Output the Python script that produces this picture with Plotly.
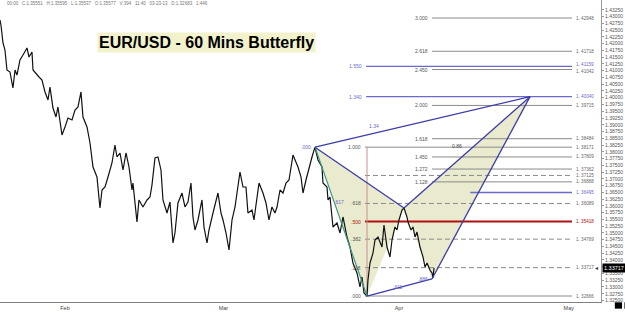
import pandas as pd
import plotly.graph_objects as go

# ---------------- data (day-of-year 2013, EUR/USD price) ----------------
price_day = [19.52, 19.69, 20.05, 20.40, 20.75, 21.28, 21.81, 22.17, 22.52, 23.05, 23.58, 24.29, 24.64, 25.17,
             25.35, 26.05, 26.41, 26.94, 27.47, 28.00, 28.35, 28.88, 29.41, 29.76, 30.12, 30.47, 31.00, 31.53,
             32.24, 32.77, 33.30, 33.83, 34.18, 34.89, 35.42, 35.95, 36.65, 37.18, 37.54, 38.07, 38.60, 39.30,
             39.83, 40.19, 40.72, 41.25, 41.78, 42.31, 42.84, 43.01, 43.72, 44.07, 44.78, 45.49, 46.02, 46.37,
             46.90, 47.43, 47.96, 48.31, 49.02, 49.55, 50.08, 50.43, 50.96, 51.67, 52.20, 52.73, 53.26, 53.61,
             53.97, 54.50, 55.20, 55.56, 56.09, 56.44, 57.15, 57.68, 58.03, 58.56, 58.92, 59.45, 59.98, 60.51,
             61.04, 61.39, 61.92, 62.45, 62.98, 63.33, 64.04, 64.39, 64.92, 65.28, 65.98, 66.51, 67.04, 67.57,
             68.10, 68.46, 68.99, 69.52, 70.05, 70.58, 71.28, 71.64, 72.17, 72.70, 73.05, 73.58, 74.11, 74.64,
             75.17, 75.70, 76.41, 76.58, 77.29, 77.47, 77.82, 78.35, 79.06, 79.59, 80.12, 80.82, 81.35, 81.88,
             82.59, 83.12, 83.47, 83.83, 84.36, 84.53, 84.89, 85.42, 85.77, 86.30, 87.01, 87.36, 87.89, 88.42,
             88.77, 89.30, 89.66, 90.01, 90.54, 90.89, 91.42, 91.60, 92.13, 92.48, 92.84, 93.19, 93.72, 94.25,
             94.61, 94.96, 95.49, 95.84, 96.02, 96.20]
price_val = [1.42874, 1.42689, 1.42024, 1.41765, 1.41025, 1.40951, 1.40360, 1.41025, 1.40840, 1.41395, 1.41580,
             1.41839, 1.41506, 1.41691, 1.41025, 1.40840, 1.40766, 1.40655, 1.40212, 1.39916, 1.40397, 1.39620,
             1.39287, 1.39657, 1.39176, 1.38621, 1.38917, 1.39250, 1.39176, 1.39546, 1.39657, 1.40212, 1.39287,
             1.38917, 1.38326, 1.37438, 1.37068, 1.35922, 1.36587, 1.36698, 1.37068, 1.37586, 1.38252, 1.37808,
             1.37956, 1.37327, 1.37956, 1.37438, 1.36587, 1.36846, 1.35404, 1.36218, 1.35959, 1.36218, 1.36329,
             1.36772, 1.37771, 1.37808, 1.37327, 1.36218, 1.35737, 1.36144, 1.34627, 1.34997, 1.36107, 1.36476,
             1.35959, 1.36144, 1.36846, 1.35589, 1.35108, 1.35478, 1.36218, 1.35219, 1.34627, 1.35108, 1.35737,
             1.36218, 1.36476, 1.35737, 1.35478, 1.34997, 1.34368, 1.35478, 1.35959, 1.36476, 1.37253, 1.36698,
             1.36698, 1.35737, 1.35848, 1.35478, 1.36329, 1.36846, 1.36476, 1.36107, 1.35478, 1.35959, 1.35737,
             1.35959, 1.36587, 1.36476, 1.36846, 1.36957, 1.37882, 1.37697, 1.37438, 1.37068, 1.36476, 1.36957,
             1.37438, 1.37808, 1.38171, 1.37697, 1.37438, 1.36846, 1.36698, 1.36218, 1.36329, 1.35219, 1.35367,
             1.34997, 1.35589, 1.34849, 1.34479, 1.33888, 1.33518, 1.33000, 1.33370, 1.32778, 1.32666, 1.33259,
             1.33888, 1.34258, 1.34738, 1.34849, 1.34479, 1.35293, 1.34479, 1.34110, 1.34738, 1.35219, 1.35108,
             1.35478, 1.35848, 1.35922, 1.35589, 1.35404, 1.35108, 1.35219, 1.34849, 1.35034, 1.34479, 1.34110,
             1.33740, 1.33888, 1.33629, 1.33518, 1.33333, 1.33703]

# Butterfly pattern points X, A, B, C, D
pat_names = ["X", "A", "B", "C", "D"]
pat_day = [75.17, 84.36, 90.89, 95.84, 113.16]
pat_val = [1.38171, 1.32666, 1.35922, 1.33296, 1.40040]

# XA retracement levels (label, price, style)
xa_labels = ["1.000", "", ".618", ".500", ".382", ".118", ".000"]
xa_prices = [1.38171, 1.37125, 1.36089, 1.35418, 1.34769, 1.33717, 1.32666]
xa_styles = ["solid", "dash", "dash", "red", "dash", "dash", "solid"]

# BC projection levels
bc_labels = ["3.000", "2.618", "2.450", "2.000", "1.618", "1.450", "1.272", "1.128"]
bc_prices = [1.42948, 1.41718, 1.41042, 1.39715, 1.38484, 1.37809, 1.37362, 1.36888]

# XA extension levels (blue)
ext_labels = ["1.550", "1.340"]
ext_prices = [1.41159, 1.40040]
blue_short_price = 1.36495

current_price = 1.33717
month_ticks = ["2013-02-01", "2013-03-01", "2013-04-01", "2013-05-01"]
month_labels = ["Feb", "Mar", "Apr", "May"]
price_ticks = [round(1.325 + 0.0025 * i, 5) for i in range(44)]
header = "00:00   C:1.35551   H:1.35595   L:1.35537   O:1.35577   V:394   11:40   03-23-13   D:1.32683   1:446"
title = "EUR/USD - 60 Mins Butterfly"

# day spans for level lines
xa_start, bc_start, ext_start, short_start, lvl_end = 84.0, 95.84, 84.2, 102.6, 120.58
x_range_days = [19.52, 125.7]
y_range = [1.32445, 1.43614]

# ---------------- helpers ----------------
BASE = pd.Timestamp("2013-01-01")


def dt(d):
    return (BASE + pd.to_timedelta(d, unit="D")).strftime("%Y-%m-%d %H:%M:%S")


GRAY = "#8a8a8a"
BLUE = "#3c3ca8"
LBLUE = "#6a6acc"
RED = "#b01010"
FONT = "Liberation Sans"

fig = go.Figure()
ann = []


def hline(d0, d1, p, color, width=1, dash="solid"):
    fig.add_trace(go.Scatter(x=[dt(d0), dt(d1)], y=[p, p], mode="lines",
                             line=dict(color=color, width=width, dash=dash),
                             hoverinfo="skip", showlegend=False))


def label(d, p, text, color, anchor="left", size=5, yshift=0):
    ann.append(dict(x=dt(d), y=p, text=text, showarrow=False, xanchor=anchor, yanchor="middle",
                    font=dict(size=size, color=color, family=FONT), yshift=yshift))


# filled triangles XAB and BCD
for idx in ([0, 1, 2, 0], [2, 3, 4, 2]):
    fig.add_trace(go.Scatter(x=[dt(pat_day[i]) for i in idx], y=[pat_val[i] for i in idx],
                             mode="lines", fill="toself", fillcolor="rgba(222,222,180,0.65)",
                             line=dict(width=0, color="rgba(0,0,0,0)"), hoverinfo="skip", showlegend=False))

# XA fib levels
for lab, p, st in zip(xa_labels, xa_prices, xa_styles):
    if st == "red":
        hline(xa_start, lvl_end, p, RED, 2)
        col = RED
    else:
        hline(xa_start, lvl_end, p, GRAY, 1, "solid" if st == "solid" else "5px,3px")
        col = "#555555"
    if lab:
        label(83.6, p, lab, col, anchor="right")

# BC projection levels
for lab, p in zip(bc_labels, bc_prices):
    hline(bc_start, lvl_end, p, GRAY, 1)
    label(95.5, p, lab, "#555555", anchor="right")

# blue extension levels
for lab, p in zip(ext_labels, ext_prices):
    hline(ext_start, lvl_end, p, LBLUE, 1.3)
    label(83.9, p, lab, LBLUE, anchor="right")
hline(short_start, lvl_end, blue_short_price, LBLUE, 1.3)

# right-side price labels on levels
right_prices = sorted(set(xa_prices + bc_prices + ext_prices + [blue_short_price]), reverse=True)
for p in right_prices:
    if p in ext_prices or p == blue_short_price:
        col = LBLUE
    elif p == 1.35418:
        col = RED
    else:
        col = "#666666"
    shift = 2 if p == 1.41159 else (-2 if p == 1.41042 else 0)
    label(lvl_end + 0.3, p, "1. " + f"{p:.5f}"[2:], col, anchor="left", size=4.6, yshift=shift)

# vertical marker at A from XA high to low
fig.add_trace(go.Scatter(x=[dt(pat_day[1]), dt(pat_day[1])], y=[xa_prices[0], xa_prices[-1]], mode="lines",
                         line=dict(color="#c89090", width=1), hoverinfo="skip", showlegend=False))

# price line
fig.add_trace(go.Scatter(x=[dt(d) for d in price_day], y=price_val, mode="lines",
                         line=dict(color="#111111", width=1.2), hoverinfo="skip", showlegend=False))

# pattern legs
fig.add_trace(go.Scatter(x=[dt(pat_day[0]), dt(pat_day[1])], y=[pat_val[0], pat_val[1]], mode="lines",
                         line=dict(color="#3a9a80", width=1.2), hoverinfo="skip", showlegend=False))
for a, b in ((0, 2), (1, 3), (2, 4), (3, 4), (0, 4)):
    fig.add_trace(go.Scatter(x=[dt(pat_day[a]), dt(pat_day[b])], y=[pat_val[a], pat_val[b]], mode="lines",
                             line=dict(color=BLUE, width=1.3), hoverinfo="skip", showlegend=False))

# pattern ratio labels
label(pat_day[0] - 0.3, pat_val[0], ".000", LBLUE, anchor="right")
label(79.4, 1.3615, ".617", LBLUE, anchor="center")
label(85.6, 1.3895, "1.34", LBLUE, anchor="center")
label(89.8, 1.3300, ".611", LBLUE, anchor="center")
label(pat_day[3] - 0.4, pat_val[3], ".886", LBLUE, anchor="right")
label(100.2, 1.3823, "0.86", "#444444", anchor="center")

layout_ann = ann + [
    dict(xref="paper", yref="paper", x=0.343, y=0.859, text="<b>" + title + "</b>", showarrow=False,
         xanchor="center", yanchor="middle", bgcolor="#f2f2cc", borderpad=1,
         font=dict(size=16, color="#000000", family=FONT)),
    dict(xref="paper", yref="paper", x=0.008, y=0.987, text=header, showarrow=False, xanchor="left",
         yanchor="middle", font=dict(size=4.5, color="#777777", family=FONT)),
    dict(xref="paper", yref="y", x=1.0, y=current_price, text="1.33717", showarrow=False, xanchor="left",
         yanchor="middle", xshift=1, bgcolor="#000000", borderpad=1,
         font=dict(size=5.5, color="#ffffff", family=FONT)),
    dict(xref="paper", yref="y", x=1.0, y=current_price, text="◂", showarrow=False, xanchor="right",
         yanchor="middle", xshift=-1, font=dict(size=6, color="#333333", family=FONT)),
]

fig.update_layout(
    width=625, height=313, margin=dict(l=0, r=24, t=0, b=11),
    paper_bgcolor="#ffffff", plot_bgcolor="#ffffff", showlegend=False,
    annotations=layout_ann,
    xaxis=dict(type="date", range=[dt(x_range_days[0]), dt(x_range_days[1])], tickvals=month_ticks,
               ticktext=month_labels, showgrid=False, zeroline=False, showline=True, linecolor="#808080",
               linewidth=1, ticks="", tickfont=dict(size=5.5, color="#444444", family=FONT)),
    yaxis=dict(side="right", range=y_range, tickvals=price_ticks, ticktext=[f"{t:.5f}" for t in price_ticks],
               showgrid=False, zeroline=False, showline=True, linecolor="#999999", linewidth=1,
               ticks="outside", ticklen=2, tickcolor="#999999",
               tickfont=dict(size=5, color="#555555", family=FONT)),
    shapes=[
        dict(type="rect", xref="paper", yref="paper", x0=1.023, x1=1.035, y0=-0.001, y1=-0.022,
             fillcolor="#000000", line=dict(width=0)),
        dict(type="rect", xref="paper", yref="paper", x0=1.023 + 0.016, x1=1.035 + 0.016, y0=-0.001, y1=-0.022,
             fillcolor="#000000", line=dict(width=0)),
    ],
)

fig.write_html("out.html")
